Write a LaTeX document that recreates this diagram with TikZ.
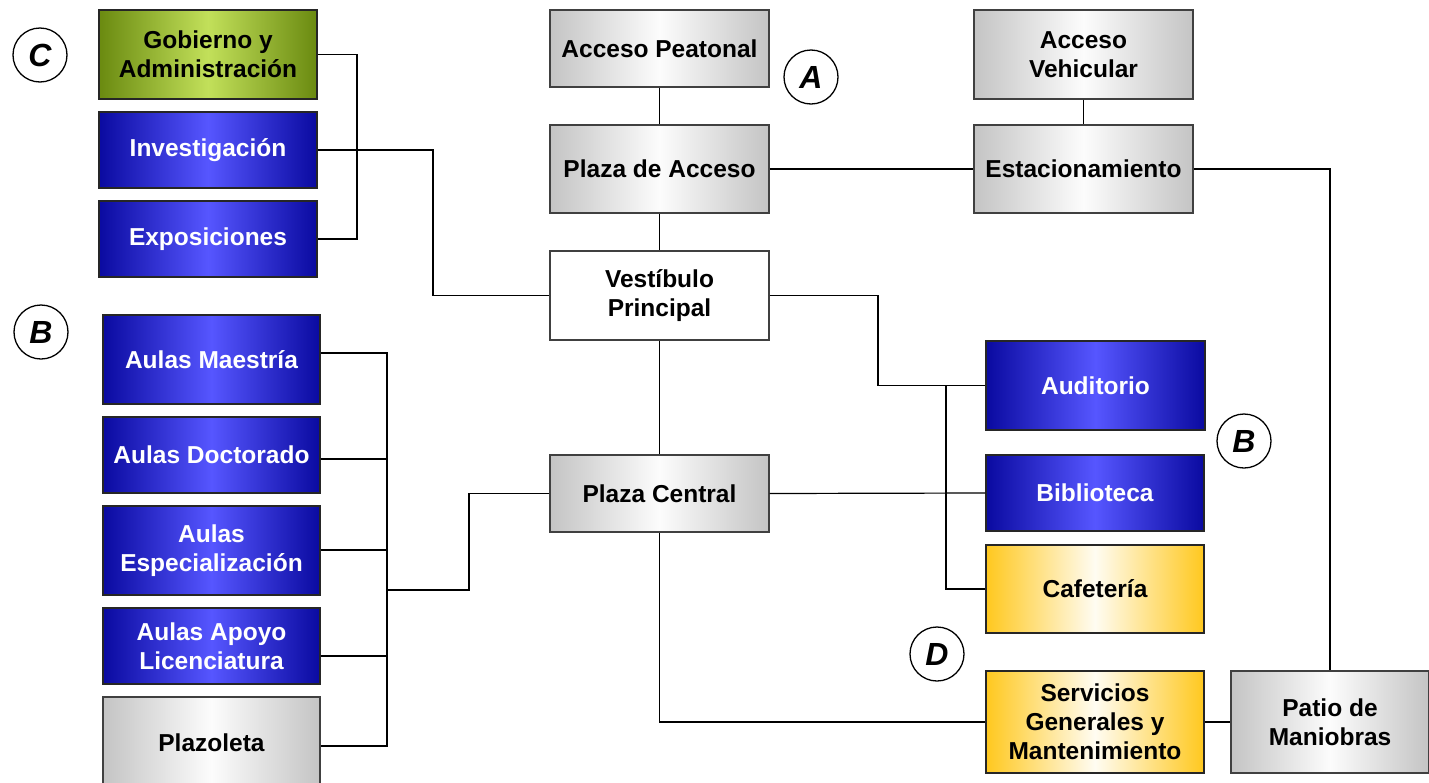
\documentclass[tikz,border=0pt]{standalone}
\usepackage{fontspec}
\setmainfont{Liberation Sans}
\begin{document}
\begin{tikzpicture}[x=1pt,y=-1pt,
  bx/.style={draw=black!85, line width=1.1pt, align=center, inner sep=2pt,
    font=\fontsize{24.5}{29}\selectfont\bfseries},
  bluebox/.style={bx, left color=blueE, right color=blueE, middle color=blueC, text=white},
  graybox/.style={bx, draw=black!75, left color=grayE, right color=grayE, middle color=grayC, text=black},
  yelbox/.style={bx, left color=yelE, right color=yelE, middle color=yelC, text=black},
  grnbox/.style={bx, left color=grnE, right color=grnE, middle color=grnC, text=black},
  whitebox/.style={bx, draw=black!75, fill=white, text=black},
  tag/.style={circle, draw=black, line width=1.3pt, minimum size=54pt, inner sep=0pt,
    font=\fontsize{32}{32}\selectfont\bfseries\itshape},
  ln/.style={draw=black, line width=1.2pt}
]
\definecolor{blueE}{RGB}{10,10,160}
\definecolor{blueC}{RGB}{86,86,255}
\definecolor{grayE}{RGB}{196,196,196}
\definecolor{grayC}{RGB}{252,252,252}
\definecolor{yelE}{RGB}{255,200,30}
\definecolor{yelC}{RGB}{255,252,242}
\definecolor{grnE}{RGB}{106,138,16}
\definecolor{grnC}{RGB}{194,224,90}

\useasboundingbox (0,0) rectangle (1429,782);
\clip (0,0) rectangle (1429,782);

% left column C
\node[grnbox, minimum width=218pt, minimum height=89pt] (gob) at (208,54.5) {Gobierno y\\Administración};
\node[bluebox, minimum width=218pt, minimum height=76pt] (inv) at (208,150) {Investigación};
\node[bluebox, minimum width=218pt, minimum height=76pt] (expo) at (208,239) {Exposiciones};

% center column
\node[graybox, minimum width=219pt, minimum height=77pt] (peat) at (659.5,48.5) {Acceso Peatonal};
\node[graybox, minimum width=219pt, minimum height=88pt] (plac) at (659.5,169) {Plaza de Acceso};
\node[whitebox, minimum width=219pt, minimum height=89pt] (vest) at (659.5,295.5) {Vestíbulo\\Principal};
\node[graybox, minimum width=219pt, minimum height=77pt] (pcen) at (659.5,493.5) {Plaza Central};

% right top
\node[graybox, minimum width=219pt, minimum height=89pt] (veh) at (1083.5,54.5) {Acceso\\Vehicular};
\node[graybox, minimum width=219pt, minimum height=88pt] (est) at (1083.5,169) {Estacionamiento};

% left column B
\node[bluebox, minimum width=217pt, minimum height=89pt] (mae) at (211.5,359.5) {Aulas Maestría};
\node[bluebox, minimum width=217pt, minimum height=76pt] (doc) at (211.5,455) {Aulas Doctorado};
\node[bluebox, minimum width=217pt, minimum height=89pt] (esp) at (211.5,550.5) {Aulas\\Especialización};
\node[bluebox, minimum width=217pt, minimum height=76pt] (apo) at (211.5,646) {Aulas Apoyo\\Licenciatura};
\node[graybox, minimum width=217pt, minimum height=92pt] (plz) at (211.5,743) {Plazoleta};

% right column
\node[bluebox, minimum width=219pt, minimum height=89pt] (aud) at (1095.5,385.5) {Auditorio};
\node[bluebox, minimum width=218pt, minimum height=76pt] (bib) at (1095,493) {Biblioteca};
\node[yelbox, minimum width=218pt, minimum height=88pt] (caf) at (1095,589) {Cafetería};
\node[yelbox, minimum width=218pt, minimum height=102pt] (serv) at (1095,722) {Servicios\\Generales y\\Mantenimiento};
\node[graybox, minimum width=198pt, minimum height=102pt] (patio) at (1330,722) {Patio de\\Maniobras};

% tags
\node[tag] (tC) at (40,55) {C};
\node[tag] (tA) at (811,77) {A};
\node[tag] (tB1) at (41,332) {B};
\node[tag] (tB2) at (1244,441) {B};
\node[tag] (tD) at (937,654) {D};

% bend coordinates
\coordinate (cb) at (357,0);
\coordinate (ib) at (433,0);
\coordinate (pb) at (469,0);
\coordinate (vb) at (878,0);
\coordinate (rb) at (946,0);
\coordinate (m1) at (387,353);
\coordinate (m2) at (387,459);
\coordinate (m3) at (387,550);
\coordinate (m4) at (387,656);
\coordinate (m5) at (387,746);
\coordinate (aj) at (387,590);

% connectors
\draw[ln] (gob.east) -| (cb |- expo.east) -- (expo.east);
\draw[ln] (inv.east) -| (ib |- vest.west) -- (vest.west);
\draw[ln] (peat.south) -- (plac.north);
\draw[ln] (plac.south) -- (vest.north);
\draw[ln] (vest.south) -- (pcen.north);
\draw[ln] (plac.east) -- (est.west);
\draw[ln] (veh.south) -- (est.north);
\draw[ln] (est.east) -| (patio.north);
\draw[ln] (vest.east) -| (vb |- aud.west) -- (aud.west);
\draw[ln] (rb |- aud.west) |- (caf.west);
\draw[ln] (pcen.east) -- (bib.west);
\draw[ln] (pcen.south) |- (serv.west);
\draw[ln] (serv.east) -- (patio.west);
\draw[ln] (pcen.west) -| (pb |- aj) -- (aj);
\draw[ln] (mae.east |- m1) -- (m1) -- (m5) -- (plz.east |- m5);
\draw[ln] (doc.east |- m2) -- (m2);
\draw[ln] (esp.east |- m3) -- (m3);
\draw[ln] (apo.east |- m4) -- (m4);
\end{tikzpicture}
\end{document}
